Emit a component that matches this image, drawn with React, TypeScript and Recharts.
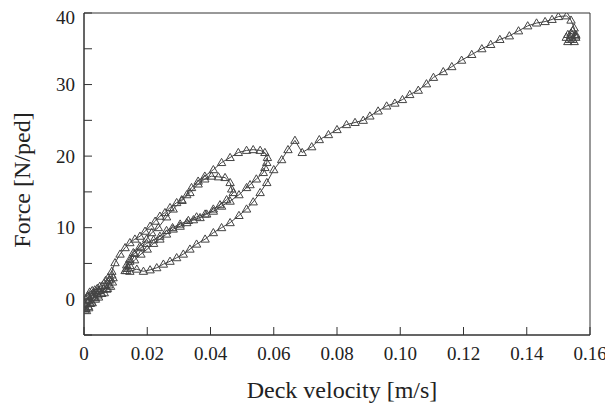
import { ScatterChart, Scatter, XAxis, YAxis, ReferenceArea } from "recharts";

// deck velocity [m/s] and force [N/ped], in the order the trace was drawn
const velocity = [
  // start, small loops near the origin
  0.0003, 0.0008, 0.0015, 0.002, 0.0018, 0.0012, 0.0005, 0.0002, 0.0006, 0.0014, 0.0024, 0.003, 0.0032,
  0.0026, 0.0018, 0.0012, 0.0016, 0.0026, 0.0036, 0.0044, 0.0048, 0.0042, 0.0034, 0.003, 0.0036, 0.0046,
  0.0056, 0.0062, 0.0058, 0.005, 0.0046, 0.0054, 0.0064, 0.0072, 0.0078, 0.0082, 0.0076, 0.0068, 0.0066,
  0.0074, 0.0084, 0.009, 0.0092, 0.0088,
  // outer upper branch
  0.0088, 0.0098, 0.0114, 0.013, 0.0145, 0.0161, 0.0177, 0.0193, 0.0209, 0.0225, 0.024, 0.0256, 0.0272,
  0.0293, 0.0309, 0.0325, 0.034, 0.0361, 0.0382, 0.0409, 0.0435, 0.0462, 0.0488, 0.0514, 0.0535, 0.0557,
  0.0572, 0.058, 0.0578, 0.0572,
  // middle band going down
  0.0567, 0.0545, 0.0525, 0.0514, 0.049, 0.0462, 0.0435, 0.0409, 0.0383, 0.0356, 0.033, 0.0304, 0.028,
  0.0261, 0.024, 0.022, 0.0198, 0.018, 0.016, 0.0145, 0.0135, 0.013,
  // inner upper branch
  0.0135, 0.0145, 0.0156, 0.0177, 0.0198, 0.0214, 0.0235, 0.0261, 0.0282, 0.031, 0.0335, 0.0361, 0.0382,
  0.0403, 0.0425, 0.0446, 0.0462, 0.0467, 0.0472,
  // middle band again
  0.0451, 0.043, 0.0409, 0.0388, 0.0367, 0.0346, 0.0325, 0.0304, 0.0282, 0.0261, 0.024, 0.022, 0.02,
  0.018, 0.016, 0.0145, 0.0135,
  // lower branch and the long rise
  0.0145, 0.0167, 0.0188, 0.0209, 0.023, 0.0251, 0.0272, 0.0293, 0.0314, 0.0335, 0.0356, 0.0383, 0.0409,
  0.0435, 0.0462, 0.049, 0.0514, 0.0535, 0.0557, 0.0578, 0.06, 0.0625, 0.0645, 0.0667, 0.069, 0.072,
  0.0744, 0.0773, 0.08, 0.083, 0.0857, 0.0883, 0.0904, 0.093, 0.0957, 0.0983, 0.1007, 0.103, 0.1057,
  0.1083, 0.1105, 0.1136, 0.1163, 0.1194, 0.1226, 0.1258, 0.1286, 0.1315, 0.1345, 0.1374, 0.1403,
  0.1431, 0.1458, 0.148, 0.15, 0.1526, 0.154, 0.155, 0.1555, 0.1545, 0.153, 0.1525, 0.154, 0.1555,
  0.155, 0.1535, 0.153, 0.1545, 0.1555,
];

const force = [
  -1.5, -1.6, -1.2, -0.6, 0.0, 0.3, 0.0, -0.7, -1.3, -1.0, -0.4, 0.3, 0.9,
  1.2, 1.0, 0.5, -0.2, -0.5, 0.0, 0.6, 1.2, 1.5, 1.3, 0.7, 0.2, 0.3,
  0.8, 1.4, 1.9, 1.8, 1.2, 0.8, 0.9, 1.4, 2.0, 2.7, 3.0, 2.6, 1.9,
  1.5, 1.8, 2.4, 3.0, 3.4,
  3.9, 5.1, 6.3, 7.2, 7.9, 8.4, 8.8, 9.5, 10.2, 10.9, 11.6, 12.1, 12.8,
  13.5, 13.9, 14.6, 15.6, 16.5, 17.2, 18.1, 19.1, 19.8, 20.5, 20.8, 20.9, 20.8,
  20.5, 19.8, 19.1, 18.4,
  17.7, 16.8, 16.0, 15.6, 14.6, 13.7, 13.0, 12.3, 11.9, 11.5, 11.0, 10.5, 10.0,
  9.6, 8.8, 8.3, 7.8, 7.2, 6.4, 5.6, 4.8, 4.0,
  4.3, 5.3, 6.5, 7.4, 8.4, 9.3, 10.0, 11.5, 12.6, 13.8, 14.9, 16.1, 16.8,
  17.2, 17.1, 17.0, 16.3, 15.4, 14.9,
  13.9, 13.2, 12.6, 11.9, 11.4, 11.1, 10.7, 10.2, 9.8, 9.1, 8.4, 7.8, 7.0,
  6.3, 5.5, 4.7, 4.0,
  3.9, 4.2, 3.9, 4.1, 4.4, 4.9, 5.3, 5.8, 6.3, 7.0, 7.7, 8.4, 9.3,
  10.0, 10.7, 11.7, 12.6, 13.6, 14.9, 16.3, 18.1, 19.5, 20.9, 22.2, 20.5, 21.3,
  22.3, 23.0, 23.7, 24.4, 24.7, 25.0, 25.6, 26.3, 27.0, 27.4, 27.9, 28.6, 29.2,
  30.1, 31.0, 31.8, 32.5, 33.4, 34.2, 35.0, 35.6, 36.3, 36.8, 37.5, 38.2,
  38.6, 38.8, 39.1, 39.5, 39.6, 39.0, 37.9, 37.0, 36.3, 36.0, 36.6, 37.2, 36.6,
  36.0, 36.3, 37.0, 37.5, 36.8,
];

const xTicks = [0, 0.02, 0.04, 0.06, 0.08, 0.1, 0.12, 0.14, 0.16];
const yTicks = [-5, 0, 5, 10, 15, 20, 25, 30, 35, 40];

const data = velocity.map((v, i) => ({ v, f: force[i] }));

const serif = "Liberation Serif, DejaVu Serif, serif";
const txt = { fontFamily: serif };

const YTick = (props: any) => {
  const { x, y, payload } = props;
  if (payload.value % 10 !== 0) return <g />;
  return (
    <text x={x} y={y} dy="0.35em" textAnchor="end" fontSize={19} fill="#222" style={txt}>
      {payload.value}
    </text>
  );
};

const XTick = (props: any) => {
  const { x, y, payload } = props;
  const v = payload.value as number;
  return (
    <text x={x} y={y} dy="0.71em" textAnchor="middle" fontSize={19} fill="#222" style={txt}>
      {v === 0 ? "0" : v.toFixed(2)}
    </text>
  );
};

// small open triangle marker
const Tri = (props: any) => {
  const { cx, cy } = props;
  if (cx == null || cy == null) return <g />;
  return (
    <path
      d={`M${cx},${cy - 4.2}L${cx + 4.2},${cy + 3}L${cx - 4.2},${cy + 3}Z`}
      fill="none"
      stroke="#444"
      strokeWidth={1}
    />
  );
};

export default function App() {
  return (
    <div style={{ fontFamily: serif }}>
      <ScatterChart width={605} height={400} margin={{ top: 5, right: 23, left: 0, bottom: 0 }}>
        <XAxis
          type="number"
          dataKey="v"
          domain={[0, 0.16]}
          ticks={xTicks}
          allowDataOverflow
          height={73}
          tickSize={-8}
          tickMargin={20}
          stroke="#333"
          tick={<XTick />}
          label={{
            content: () => (
              <text x={334} y={390} textAnchor="middle" fontSize={24} fill="#222" style={txt}>
                Deck velocity [m/s]
              </text>
            ),
          }}
        />
        <YAxis
          type="number"
          dataKey="f"
          domain={[-5, 40]}
          ticks={yTicks}
          allowDataOverflow
          width={76}
          tickSize={-8}
          tickMargin={17}
          stroke="#333"
          tick={<YTick />}
          label={{
            content: () => (
              <text
                x={22}
                y={172}
                transform="rotate(-90 22 172)"
                textAnchor="middle"
                fontSize={24}
                fill="#222"
                style={txt}
              >
                Force [N/ped]
              </text>
            ),
          }}
        />
        <ReferenceArea x1={0} x2={0.16} y1={-5} y2={40} fill="none" stroke="#333" strokeWidth={1} />
        <Scatter
          data={data}
          shape={<Tri />}
          line={{ stroke: "#444", strokeWidth: 1 }}
          lineType="joint"
          isAnimationActive={false}
        />
      </ScatterChart>
    </div>
  );
}
